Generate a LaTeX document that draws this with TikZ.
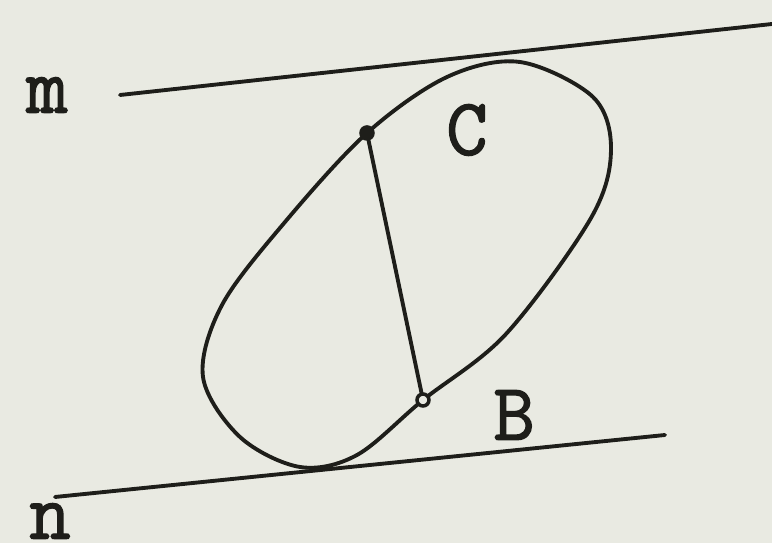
\documentclass[tikz,border=0pt]{standalone}
\usepackage{fontspec}
\newfontfamily\lblfont[FakeBold=1.6]{Latin Modern Mono}
\definecolor{paper}{HTML}{E9EAE2}
\definecolor{ink}{HTML}{1E1E1A}
\tikzset{
  stroke/.style={draw=ink, line width=1.1pt, line cap=round},
  lbl/.style={font=\fontsize{23}{23}\selectfont\lblfont, text=ink, inner sep=0pt},
  pt/.style={circle, draw=ink, line width=1pt, minimum size=1.2mm, inner sep=0pt}
}
\begin{document}
\begin{tikzpicture}[x=0.01cm,y=-0.01cm]
  \fill[paper] (0,0) rectangle (772,543);
  \useasboundingbox (0,0) rectangle (772,543);
  \coordinate (m1) at (120,95); \coordinate (m2) at (772,24);
  \coordinate (n1) at (55,497); \coordinate (n2) at (665,435);
  \draw[stroke] (m1)--(m2);
  \draw[stroke] (n1)--(n2);
  \draw[stroke] plot[smooth cycle, tension=0.55] coordinates {(520,62) (593,97) (611,150)
    (591,218) (506,334) (423,400) (357,455) (300,467) (240,437) (203,377) (222,305)
    (285,222) (367,133) (447,77)};
  \node[pt, fill=ink] (C) at (367,133) {};
  \node[pt, fill=paper] (B) at (423,400) {};
  \draw[stroke] (C)--(B);
  \node[lbl] (lm) at (47,95) {m};
  \node[lbl] (ln) at (50,521) {n};
  \node[lbl] (lC) at (467,130) {C};
  \node[lbl] (lB) at (514,415) {B};
\end{tikzpicture}
\end{document}
